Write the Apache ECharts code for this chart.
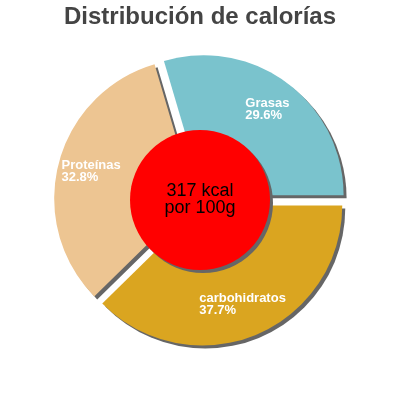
<!DOCTYPE html>
<html>
<head>
<meta charset="utf-8">
<script src="https://cdn.jsdelivr.net/npm/echarts@6/dist/echarts.min.js"></script>
<style>
  html, body { margin: 0; padding: 0; background: #fff; }
  #chart { width: 400px; height: 400px; }
</style>
</head>
<body>
<div id="chart"></div>
<script>
const titleText = 'Distribución de calorías';
const categories = ['Grasas', 'carbohidratos', 'Proteínas'];
const percents = [29.6, 37.7, 32.8];
const sliceColors = ['#7ac3cd', '#daa520', '#edc592'];
const centerLines = ['317 kcal', 'por 100g'];

const FONT = 'Liberation Sans, Arial, sans-serif';
const total = percents.reduce((a, b) => a + b, 0);
const startAngle = percents[0] / total * 360;
const shadow = { shadowBlur: 0, shadowOffsetX: 3, shadowOffsetY: 3, shadowColor: '#666666' };

const chart = echarts.init(document.getElementById('chart'), null, { renderer: 'canvas' });

const mainData = categories.map((name, i) => ({
  name, value: percents[i], selected: true,
  itemStyle: Object.assign({ color: sliceColors[i], borderWidth: 0 }, shadow),
  select: { itemStyle: Object.assign({ color: sliceColors[i], borderWidth: 0 }, shadow) }
}));

const labelData = categories.map((name, i) => ({
  name, value: percents[i], selected: true,
  label: i === 0 ? { offset: [-23, -20] } : {}
}));

chart.setOption({
  animation: false,
  backgroundColor: '#ffffff',
  title: {
    text: titleText, left: 'center', top: 0,
    textStyle: { fontSize: 24, fontWeight: 'bold', color: '#444444', fontFamily: FONT }
  },
  series: [
    {
      type: 'pie', silent: true, z: 1, center: ['50%', '50%'], radius: [0, 140],
      startAngle: startAngle, clockwise: true,
      selectedMode: 'multiple', selectedOffset: 6,
      label: { show: false }, labelLine: { show: false },
      data: mainData
    },
    {
      type: 'pie', silent: true, z: 5, center: ['50%', '50%'], radius: [0, 70],
      label: {
        show: true, position: 'center', formatter: centerLines.join('\n'),
        color: '#000', fontSize: 18, lineHeight: 17, fontFamily: FONT
      },
      labelLine: { show: false },
      itemStyle: Object.assign({ color: '#ff0000' }, shadow),
      data: [{ name: 'kcal', value: 1 }]
    },
    {
      type: 'pie', silent: true, z: 8, center: ['50%', '50%'], radius: [67, 140],
      startAngle: startAngle, clockwise: true,
      selectedMode: 'multiple', selectedOffset: 6,
      avoidLabelOverlap: false,
      itemStyle: { color: 'rgba(0,0,0,0)', borderWidth: 0 },
      select: { itemStyle: { color: 'rgba(0,0,0,0)', borderWidth: 0 } },
      label: {
        show: true, position: 'inside',
        formatter: p => '{a|' + p.name + '}\n{a|' + p.value + '%}',
        rich: { a: { align: 'left', color: '#ffffff', fontSize: 13, fontWeight: 'bold', lineHeight: 12, fontFamily: FONT } }
      },
      labelLine: { show: false },
      data: labelData
    }
  ]
});
</script>
</body>
</html>
